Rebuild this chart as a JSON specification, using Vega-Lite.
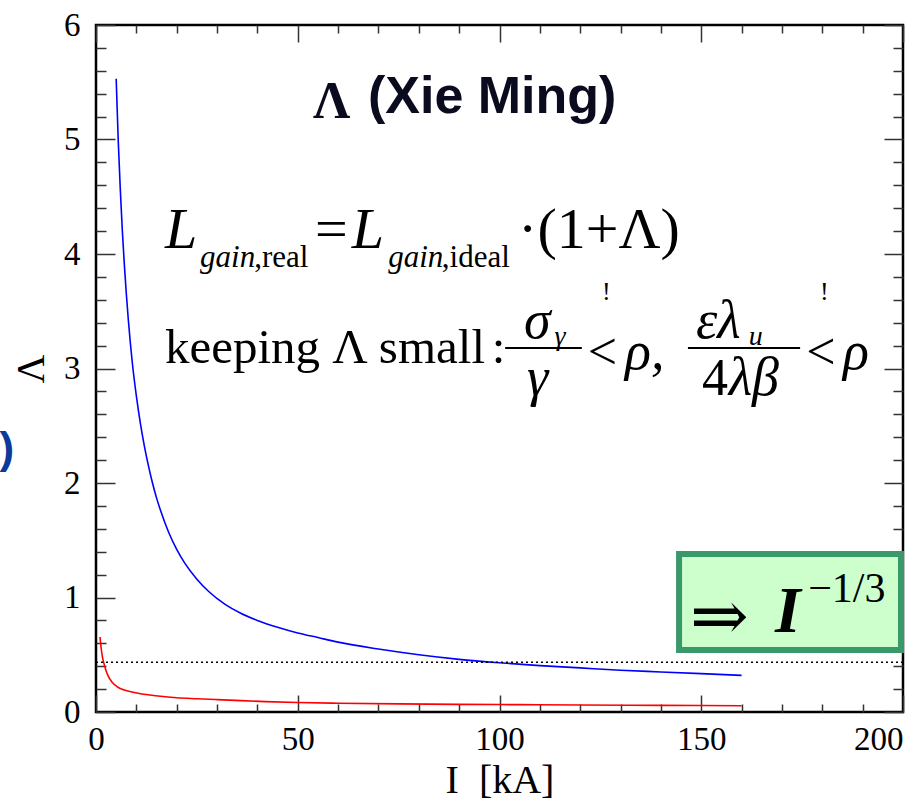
{
  "$schema": "https://vega.github.io/schema/vega-lite/v6.json",
  "width": 807,
  "height": 687,
  "autosize": "none",
  "padding": {"left": 96, "top": 25, "right": 10, "bottom": 95},
  "background": "white",
  "config": {
    "view": {"stroke": "#000", "strokeWidth": 2.5},
    "axis": {
      "grid": false,
      "domain": false,
      "tickColor": "#333",
      "tickWidth": 1.5,
      "labelColor": "#000",
      "titleColor": "#000",
      "labelFont": "Liberation Serif",
      "titleFont": "Liberation Serif",
      "titleFontWeight": "normal",
      "labelFlush": false,
      "labelOverlap": false,
      "labelBound": false
    }
  },
  "resolve": {"axis": {"x": "independent", "y": "independent"}},
  "layer": [
    {
      "data": {"values": [
        {"I": 5, "L": 5.53}, {"I": 5.5, "L": 5.0}, {"I": 6, "L": 4.58}, {"I": 6.5, "L": 4.22},
        {"I": 7, "L": 3.92}, {"I": 7.5, "L": 3.66}, {"I": 8, "L": 3.43}, {"I": 9, "L": 3.05},
        {"I": 10, "L": 2.76}, {"I": 11, "L": 2.52}, {"I": 12, "L": 2.32}, {"I": 13, "L": 2.15},
        {"I": 14, "L": 2.0}, {"I": 15, "L": 1.87}, {"I": 16, "L": 1.76}, {"I": 18, "L": 1.57},
        {"I": 20, "L": 1.42}, {"I": 22, "L": 1.3}, {"I": 25, "L": 1.16}, {"I": 28, "L": 1.05},
        {"I": 32, "L": 0.94}, {"I": 36, "L": 0.86}, {"I": 40, "L": 0.8}, {"I": 45, "L": 0.74},
        {"I": 50, "L": 0.69}, {"I": 55, "L": 0.65}, {"I": 60, "L": 0.61}, {"I": 70, "L": 0.55},
        {"I": 80, "L": 0.5}, {"I": 90, "L": 0.46}, {"I": 100, "L": 0.43}, {"I": 110, "L": 0.405},
        {"I": 120, "L": 0.385}, {"I": 130, "L": 0.365}, {"I": 140, "L": 0.35}, {"I": 150, "L": 0.335},
        {"I": 160, "L": 0.32}
      ]},
      "mark": {"type": "line", "color": "#0000ff", "strokeWidth": 1.6, "interpolate": "monotone"},
      "encoding": {
        "x": {
          "field": "I", "type": "quantitative",
          "scale": {"domain": [0, 200], "nice": false, "zero": false},
          "axis": {
            "orient": "bottom",
            "values": [0, 10, 20, 30, 40, 50, 60, 70, 80, 90, 100, 110, 120, 130, 140, 150, 160, 170, 180, 190, 200],
            "tickCount": 200,
            "tickMinStep": 1,
            "tickSize": {"condition": {"test": "datum.value % 50 === 0", "value": -17}, "value": -8},
            "labelOverlap": false,
            "labelExpr": "datum.value % 50 === 0 ? datum.label : ''",
            "labelAlign": {"condition": {"test": "datum.value === 200", "value": "right"}, "value": "center"},
            "labelFontSize": 33,
            "labelPadding": 28,
            "title": "I\u00a0\u00a0[kA]",
            "titleFontSize": 40,
            "titlePadding": -5
          }
        },
        "y": {
          "field": "L", "type": "quantitative",
          "scale": {"domain": [0, 6], "nice": false, "zero": false},
          "axis": {
            "orient": "left",
            "values": [0, 0.2, 0.4, 0.6, 0.8, 1, 1.2, 1.4, 1.6, 1.8, 2, 2.2, 2.4, 2.6, 2.8, 3, 3.2, 3.4, 3.6, 3.8, 4, 4.2, 4.4, 4.6, 4.8, 5, 5.2, 5.4, 5.6, 5.8, 6],
            "tickCount": 200,
            "tickMinStep": 0.01,
            "tickSize": {"condition": {"test": "datum.value % 1 === 0", "value": -19}, "value": -10},
            "labelOverlap": false,
            "labelExpr": "datum.value % 1 === 0 ? format(datum.value, 'd') : ''",
            "labelFontSize": 33,
            "labelPadding": 35,
            "title": "Λ",
            "titleFontSize": 40,
            "titlePadding": 12
          }
        }
      }
    },
    {
      "data": {"values": [
        {"I": 1.0, "L": 0.655}, {"I": 1.3, "L": 0.55}, {"I": 1.6, "L": 0.48}, {"I": 2.0, "L": 0.42},
        {"I": 2.5, "L": 0.36}, {"I": 3.0, "L": 0.315}, {"I": 4.0, "L": 0.26}, {"I": 5.2, "L": 0.222},
        {"I": 7, "L": 0.192}, {"I": 9.2, "L": 0.173}, {"I": 11, "L": 0.16}, {"I": 13.4, "L": 0.148},
        {"I": 16, "L": 0.137}, {"I": 20, "L": 0.125}, {"I": 25, "L": 0.116}, {"I": 30, "L": 0.108},
        {"I": 36, "L": 0.099}, {"I": 42, "L": 0.091}, {"I": 50, "L": 0.083}, {"I": 60, "L": 0.077},
        {"I": 75, "L": 0.071}, {"I": 90, "L": 0.067}, {"I": 105, "L": 0.064}, {"I": 120, "L": 0.061},
        {"I": 140, "L": 0.058}, {"I": 160, "L": 0.055}
      ]},
      "mark": {"type": "line", "color": "#ff0000", "strokeWidth": 1.6, "interpolate": "monotone"},
      "encoding": {
        "x": {
          "field": "I", "type": "quantitative",
          "axis": {
            "orient": "top",
            "values": [0, 10, 20, 30, 40, 50, 60, 70, 80, 90, 100, 110, 120, 130, 140, 150, 160, 170, 180, 190, 200],
            "tickCount": 200,
            "tickMinStep": 1,
            "tickSize": {"condition": {"test": "datum.value % 50 === 0", "value": -17}, "value": -8},
            "labelOverlap": false,
            "labels": false,
            "title": null
          }
        },
        "y": {
          "field": "L", "type": "quantitative",
          "axis": {
            "orient": "right",
            "values": [0, 0.2, 0.4, 0.6, 0.8, 1, 1.2, 1.4, 1.6, 1.8, 2, 2.2, 2.4, 2.6, 2.8, 3, 3.2, 3.4, 3.6, 3.8, 4, 4.2, 4.4, 4.6, 4.8, 5, 5.2, 5.4, 5.6, 5.8, 6],
            "tickCount": 200,
            "tickMinStep": 0.01,
            "tickSize": {"condition": {"test": "datum.value % 1 === 0", "value": -19}, "value": -10},
            "labelOverlap": false,
            "labels": false,
            "title": null
          }
        }
      }
    },
    {
      "data": {"values": [{"level": 0.435}]},
      "mark": {"type": "rule", "color": "#000", "strokeWidth": 1.5, "strokeDash": [2, 3]},
      "encoding": {"y": {"field": "level", "type": "quantitative", "axis": null}}
    },
    {
      "data": {"values": [{"x0": 144.5, "x1": 199.5, "y0": 0.541, "y1": 1.38}]},
      "mark": {"type": "rect", "fill": "#ccffcc", "stroke": "#3a996a", "strokeWidth": 6},
      "encoding": {
        "x": {"field": "x0", "type": "quantitative", "axis": null},
        "x2": {"field": "x1"},
        "y": {"field": "y0", "type": "quantitative", "axis": null},
        "y2": {"field": "y1"}
      }
    },
    {
      "data": {"values": [{"x": 147.2, "y": 0.629, "t": "⇒"}]},
      "mark": {"type": "text", "align": "left", "baseline": "alphabetic", "font": "Liberation Serif, DejaVu Serif", "fontSize": 70, "color": "#000"},
      "encoding": {
        "x": {"field": "x", "type": "quantitative", "axis": null},
        "y": {"field": "y", "type": "quantitative", "axis": null},
        "text": {"field": "t"}
      }
    },
    {
      "data": {"values": [{"x": 168.3, "y": 0.699, "t": "I"}]},
      "mark": {"type": "text", "align": "left", "baseline": "alphabetic", "font": "Liberation Serif", "fontSize": 66, "fontStyle": "italic", "fontWeight": "bold", "color": "#000"},
      "encoding": {
        "x": {"field": "x", "type": "quantitative", "axis": null},
        "y": {"field": "y", "type": "quantitative", "axis": null},
        "text": {"field": "t"}
      }
    },
    {
      "data": {"values": [{"x": 176.5, "y": 0.961, "t": "−1/3"}]},
      "mark": {"type": "text", "align": "left", "baseline": "alphabetic", "font": "Liberation Serif", "fontSize": 42, "color": "#000"},
      "encoding": {
        "x": {"field": "x", "type": "quantitative", "axis": null},
        "y": {"field": "y", "type": "quantitative", "axis": null},
        "text": {"field": "t"}
      }
    },
    {
      "data": {"values": [{"x": 53.8, "y": 5.188, "t": "Λ"}]},
      "mark": {"type": "text", "align": "left", "baseline": "alphabetic", "font": "Liberation Serif", "fontSize": 52, "fontWeight": "bold", "color": "#0b0b1f"},
      "encoding": {
        "x": {"field": "x", "type": "quantitative", "axis": null},
        "y": {"field": "y", "type": "quantitative", "axis": null},
        "text": {"field": "t"}
      }
    },
    {
      "data": {"values": [{"x": 67.4, "y": 5.231, "t": "(Xie Ming)"}]},
      "mark": {"type": "text", "align": "left", "baseline": "alphabetic", "font": "Liberation Sans", "fontSize": 52, "fontWeight": "bold", "color": "#0b0b1f"},
      "encoding": {
        "x": {"field": "x", "type": "quantitative", "axis": null},
        "y": {"field": "y", "type": "quantitative", "axis": null},
        "text": {"field": "t"}
      }
    },
    {
      "data": {"values": [{"x": 17.1, "y": 4.052, "t": "L"}, {"x": 63.4, "y": 4.052, "t": "L"}]},
      "mark": {"type": "text", "align": "left", "baseline": "alphabetic", "font": "Liberation Serif", "fontSize": 58, "fontStyle": "italic", "color": "#000"},
      "encoding": {
        "x": {"field": "x", "type": "quantitative", "axis": null},
        "y": {"field": "y", "type": "quantitative", "axis": null},
        "text": {"field": "t"}
      }
    },
    {
      "data": {"values": [{"x": 54.3, "y": 4.052, "t": "="}, {"x": 104.6, "y": 4.052, "t": "·(1+Λ)"}]},
      "mark": {"type": "text", "align": "left", "baseline": "alphabetic", "font": "Liberation Serif", "fontSize": 58, "color": "#000"},
      "encoding": {
        "x": {"field": "x", "type": "quantitative", "axis": null},
        "y": {"field": "y", "type": "quantitative", "axis": null},
        "text": {"field": "t"}
      }
    },
    {
      "data": {"values": [{"x": 25.8, "y": 3.887, "t": "gain"}, {"x": 72.4, "y": 3.887, "t": "gain"}]},
      "mark": {"type": "text", "align": "left", "baseline": "alphabetic", "font": "Liberation Serif", "fontSize": 31, "fontStyle": "italic", "color": "#000"},
      "encoding": {
        "x": {"field": "x", "type": "quantitative", "axis": null},
        "y": {"field": "y", "type": "quantitative", "axis": null},
        "text": {"field": "t"}
      }
    },
    {
      "data": {"values": [{"x": 39.2, "y": 3.887, "t": ",real"}, {"x": 85.7, "y": 3.887, "t": ",ideal"}]},
      "mark": {"type": "text", "align": "left", "baseline": "alphabetic", "font": "Liberation Serif", "fontSize": 31, "color": "#000"},
      "encoding": {
        "x": {"field": "x", "type": "quantitative", "axis": null},
        "y": {"field": "y", "type": "quantitative", "axis": null},
        "text": {"field": "t"}
      }
    },
    {
      "data": {"values": [
        {"x": 17.1, "y": 3.048, "t": "keeping Λ small"},
        {"x": 98.1, "y": 3.048, "t": ":"}
      ]},
      "mark": {"type": "text", "align": "left", "baseline": "alphabetic", "font": "Liberation Serif", "fontSize": 49, "color": "#000"},
      "encoding": {
        "x": {"field": "x", "type": "quantitative", "axis": null},
        "y": {"field": "y", "type": "quantitative", "axis": null},
        "text": {"field": "t"}
      }
    },
    {
      "data": {"values": [
        {"x": 121.9, "y": 2.996, "t": "<"},
        {"x": 150.2, "y": 2.769, "t": "4"},
        {"x": 176.0, "y": 2.996, "t": "<"}
      ]},
      "mark": {"type": "text", "align": "left", "baseline": "alphabetic", "font": "Liberation Serif", "fontSize": 52, "color": "#000"},
      "encoding": {
        "x": {"field": "x", "type": "quantitative", "axis": null},
        "y": {"field": "y", "type": "quantitative", "axis": null},
        "text": {"field": "t"}
      }
    },
    {
      "data": {"values": [
        {"x": 106.1, "y": 3.266, "t": "σ"},
        {"x": 106.8, "y": 2.769, "t": "γ"},
        {"x": 131.1, "y": 2.996, "t": "ρ,"},
        {"x": 148.7, "y": 3.266, "t": "ελ"},
        {"x": 156.8, "y": 2.769, "t": "λβ"},
        {"x": 185.1, "y": 2.996, "t": "ρ"}
      ]},
      "mark": {"type": "text", "align": "left", "baseline": "alphabetic", "font": "Liberation Serif", "fontSize": 54, "fontStyle": "italic", "color": "#000"},
      "encoding": {
        "x": {"field": "x", "type": "quantitative", "axis": null},
        "y": {"field": "y", "type": "quantitative", "axis": null},
        "text": {"field": "t"}
      }
    },
    {
      "data": {"values": [{"x": 113.6, "y": 3.205, "t": "γ"}, {"x": 161.8, "y": 3.205, "t": "u"}]},
      "mark": {"type": "text", "align": "left", "baseline": "alphabetic", "font": "Liberation Serif", "fontSize": 28, "fontStyle": "italic", "color": "#000"},
      "encoding": {
        "x": {"field": "x", "type": "quantitative", "axis": null},
        "y": {"field": "y", "type": "quantitative", "axis": null},
        "text": {"field": "t"}
      }
    },
    {
      "data": {"values": [{"x": 125.4, "y": 3.598, "t": "!"}, {"x": 179.4, "y": 3.598, "t": "!"}]},
      "mark": {"type": "text", "align": "left", "baseline": "alphabetic", "font": "Liberation Serif", "fontSize": 26, "color": "#000"},
      "encoding": {
        "x": {"field": "x", "type": "quantitative", "axis": null},
        "y": {"field": "y", "type": "quantitative", "axis": null},
        "text": {"field": "t"}
      }
    },
    {
      "data": {"values": [{"x0": 101.4, "x1": 120.4, "y": 3.179}, {"x0": 146.7, "x1": 174.5, "y": 3.179}]},
      "mark": {"type": "rule", "color": "#000", "strokeWidth": 2},
      "encoding": {
        "x": {"field": "x0", "type": "quantitative", "axis": null},
        "x2": {"field": "x1"},
        "y": {"field": "y", "type": "quantitative", "axis": null}
      }
    },
    {
      "data": {"values": [{"x": -20.3, "y": 2.175, "t": ")"}]},
      "mark": {"type": "text", "align": "right", "baseline": "alphabetic", "font": "Liberation Sans", "fontSize": 44, "fontWeight": "bold", "color": "#0b3a9b"},
      "encoding": {
        "x": {"field": "x", "type": "quantitative", "axis": null},
        "y": {"field": "y", "type": "quantitative", "axis": null},
        "text": {"field": "t"}
      }
    }
  ]
}
